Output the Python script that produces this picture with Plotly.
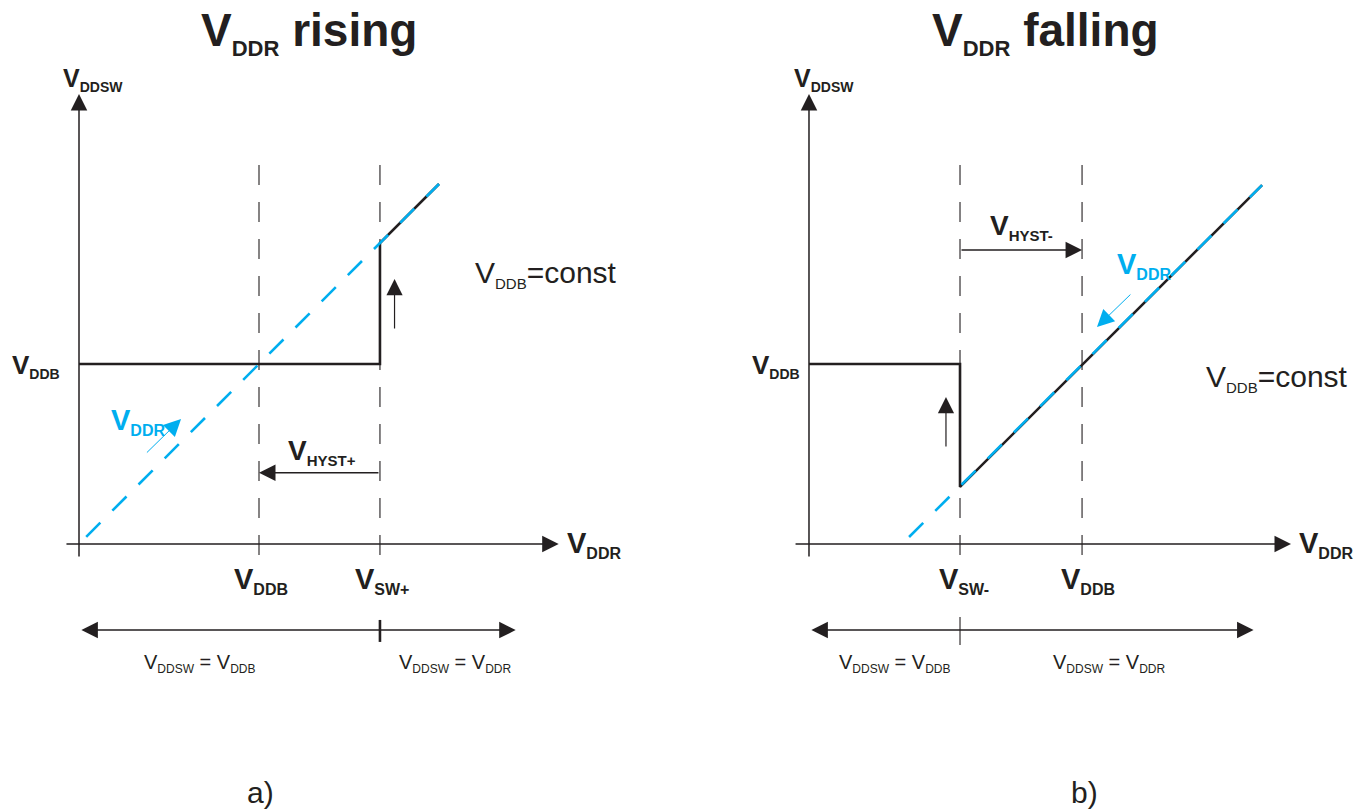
import plotly.graph_objects as go

# ---------------- data (diagram units: V_DDB = 1 on both axes) ----------------
# Panel a) V_DDR rising
a_out_x = [0.0, 1.672, 1.672, 2.0]          # V_DDSW output path (black solid)
a_out_y = [1.0, 1.0, 1.672, 2.0]
a_ramp_x = [0.04, 2.0]                      # V_DDR ramp (blue dashed)
a_ramp_y = [0.04, 2.0]
a_vlines = [1.0, 1.672]                      # V_DDB, V_SW+
a_vline_lbl = ["DDB", "SW+"]
a_hyst_y = 0.396
a_split = 1.672

# Panel b) V_DDR falling
b_out_x = [0.0, 0.839, 0.839, 2.517]
b_out_y = [1.0, 1.0, 0.317, 1.994]
b_ramp_x = [0.556, 2.517]
b_ramp_y = [0.039, 1.994]
b_vlines = [0.839, 1.517]                    # V_SW-, V_DDB
b_vline_lbl = ["SW-", "DDB"]
b_hyst_y = 1.633
b_split = 0.839

BLUE = "#00AEEF"
INK = "#231F20"
FONT = "Liberation Sans, Arial, Helvetica, sans-serif"

fig = go.Figure()

panels = [
    dict(xr="x", yr="y", out=(a_out_x, a_out_y), ramp=(a_ramp_x, a_ramp_y), vl=a_vlines),
    dict(xr="x2", yr="y2", out=(b_out_x, b_out_y), ramp=(b_ramp_x, b_ramp_y), vl=b_vlines),
]

for p in panels:
    # dashed vertical guides
    for v in p["vl"]:
        fig.add_trace(go.Scatter(x=[v, v], y=[-0.061, 2.15], mode="lines", xaxis=p["xr"], yaxis=p["yr"],
                                 line=dict(color=INK, width=1.1, dash="20px,17px"), hoverinfo="skip"))
    # output path
    fig.add_trace(go.Scatter(x=p["out"][0], y=p["out"][1], mode="lines", xaxis=p["xr"], yaxis=p["yr"],
                             line=dict(color=INK, width=2.6), hoverinfo="skip"))
    # ramp
    fig.add_trace(go.Scatter(x=p["ramp"][0], y=p["ramp"][1], mode="lines", xaxis=p["xr"], yaxis=p["yr"],
                             line=dict(color=BLUE, width=2.6, dash="20px,17px"), hoverinfo="skip"))

ann = []


def arrow(xr, yr, x0, y0, x1, y1, color=INK, width=1.5, size=2.2, side="end", head=2):
    ann.append(dict(xref=xr, yref=yr, axref=xr, ayref=yr, x=x1, y=y1, ax=x0, ay=y0, text="",
                    showarrow=True, arrowhead=head, arrowsize=size, arrowwidth=width,
                    arrowcolor=color, arrowside=side, startarrowhead=head, startarrowsize=size,
                    standoff=0, startstandoff=0))


def seg(xr, yr, xs, ys, color=INK, width=1.5):
    fig.add_trace(go.Scatter(x=xs, y=ys, mode="lines", xaxis=xr, yaxis=yr,
                             line=dict(color=color, width=width), hoverinfo="skip"))


def lab(xr, yr, x, y, main, sub, ms, ss, bold=True, color=INK, after="", anchor="left"):
    t = f"{main}<sub><span style='font-size:{ss}px'>{sub}</span></sub>{after}"
    if bold:
        t = f"<b>{t}</b>"
    ann.append(dict(xref=xr, yref=yr, x=x, y=y, text=t, showarrow=False, xanchor=anchor,
                    yanchor="middle", font=dict(family=FONT, size=ms, color=color)))


# ---- panel a ----
arrow("x", "y", 0, -0.078, 0, 2.5)
arrow("x", "y", -0.078, 0, 2.665, 0)
arrow("x", "y", a_split, a_hyst_y, a_vlines[0], a_hyst_y)
arrow("x", "y", 1.753, 1.189, 1.753, 1.472, width=1.2, size=2.7)
arrow("x", "y", 0.369, 0.5, 0.567, 0.694, color=BLUE, width=1.0, size=3.4)
arrow("x", "y", 0.005, -0.478, 2.426, -0.478, side="end+start")
seg("x", "y", [a_split, a_split], [-0.422, -0.544], width=2.6)

# ---- panel b ----
arrow("x2", "y2", 0, -0.078, 0, 2.5)
arrow("x2", "y2", -0.083, 0, 2.678, 0)
arrow("x2", "y2", b_split, b_hyst_y, b_vlines[1], b_hyst_y)
arrow("x2", "y2", 0.761, 0.533, 0.761, 0.817, width=1.2, size=2.7)
arrow("x2", "y2", 1.794, 1.394, 1.6, 1.206, color=BLUE, width=1.0, size=3.4)
arrow("x2", "y2", 0.005, -0.478, 2.47, -0.478, side="end+start")
seg("x2", "y2", [b_split, b_split], [-0.406, -0.561], width=1.1)

SUB12 = "<sub><span style='font-size:12px'>{}</span></sub>"

# ---- labels panel a ----
lab("x", "y", 1.278, 2.84, "V", "DDR", 46, 22, after=" rising", anchor="center")
lab("x", "y", -0.1, 2.58, "V", "DDSW", 25, 14)
lab("x", "y", -0.383, 0.99, "V", "DDB", 26, 14)
lab("x", "y", 2.189, 1.5, "V", "DDB", 30, 15, bold=False, after="=const")
lab("x", "y", 0.167, 0.68, "V", "DDR", 29, 16, color=BLUE)
lab("x", "y", 1.15, 0.51, "V", "HYST+", 28, 15)
lab("x", "y", 2.7, -0.005, "V", "DDR", 29, 16)
for v, s in zip(a_vlines, a_vline_lbl):
    lab("x", "y", v - 0.15, -0.2, "V", s, 29, 16)
lab("x", "y", 0.35, -0.665, "V", "DDSW", 20, 12, bold=False, after=" = V" + SUB12.format("DDB"))
lab("x", "y", 1.767, -0.665, "V", "DDSW", 20, 12, bold=False, after=" = V" + SUB12.format("DDR"))
ann.append(dict(xref="x", yref="y", x=1.006, y=-1.383, text="a)", showarrow=False,
                font=dict(family=FONT, size=30, color=INK)))

# ---- labels panel b ----
lab("x2", "y2", 1.314, 2.84, "V", "DDR", 46, 22, after=" falling", anchor="center")
lab("x2", "y2", -0.094, 2.58, "V", "DDSW", 25, 14)
lab("x2", "y2", -0.328, 0.99, "V", "DDB", 26, 14)
lab("x2", "y2", 0.994, 1.76, "V", "HYST-", 28, 15)
lab("x2", "y2", 1.7, 1.545, "V", "DDR", 29, 16, color=BLUE)
lab("x2", "y2", 2.194, 0.92, "V", "DDB", 30, 15, bold=False, after="=const")
lab("x2", "y2", 2.711, -0.005, "V", "DDR", 29, 16)
for v, s in zip(b_vlines, b_vline_lbl):
    lab("x2", "y2", v - 0.128, -0.2, "V", s, 29, 16)
lab("x2", "y2", 0.156, -0.665, "V", "DDSW", 20, 12, bold=False, after=" = V" + SUB12.format("DDB"))
lab("x2", "y2", 1.344, -0.665, "V", "DDSW", 20, 12, bold=False, after=" = V" + SUB12.format("DDR"))
ann.append(dict(xref="x2", yref="y2", x=1.533, y=-1.383, text="b)", showarrow=False,
                font=dict(family=FONT, size=30, color=INK)))

ax_common = dict(visible=False, showgrid=False, zeroline=False, fixedrange=True)
fig.update_layout(
    width=1368, height=809, margin=dict(l=0, r=0, t=0, b=0),
    paper_bgcolor="white", plot_bgcolor="white", showlegend=False,
    xaxis=dict(domain=[0, 0.5], range=[-0.4389, 3.3611], **ax_common),
    yaxis=dict(domain=[0, 1], range=[-1.4722, 3.0222], **ax_common),
    xaxis2=dict(domain=[0.5, 1], range=[-0.6944, 3.1056], **ax_common),
    yaxis2=dict(domain=[0, 1], range=[-1.4722, 3.0222], anchor="x2", **ax_common),
    annotations=ann,
)

fig.write_html("out.html", config={"displayModeBar": False},
               post_script="document.body.style.margin='0';document.body.style.overflow='hidden';")
